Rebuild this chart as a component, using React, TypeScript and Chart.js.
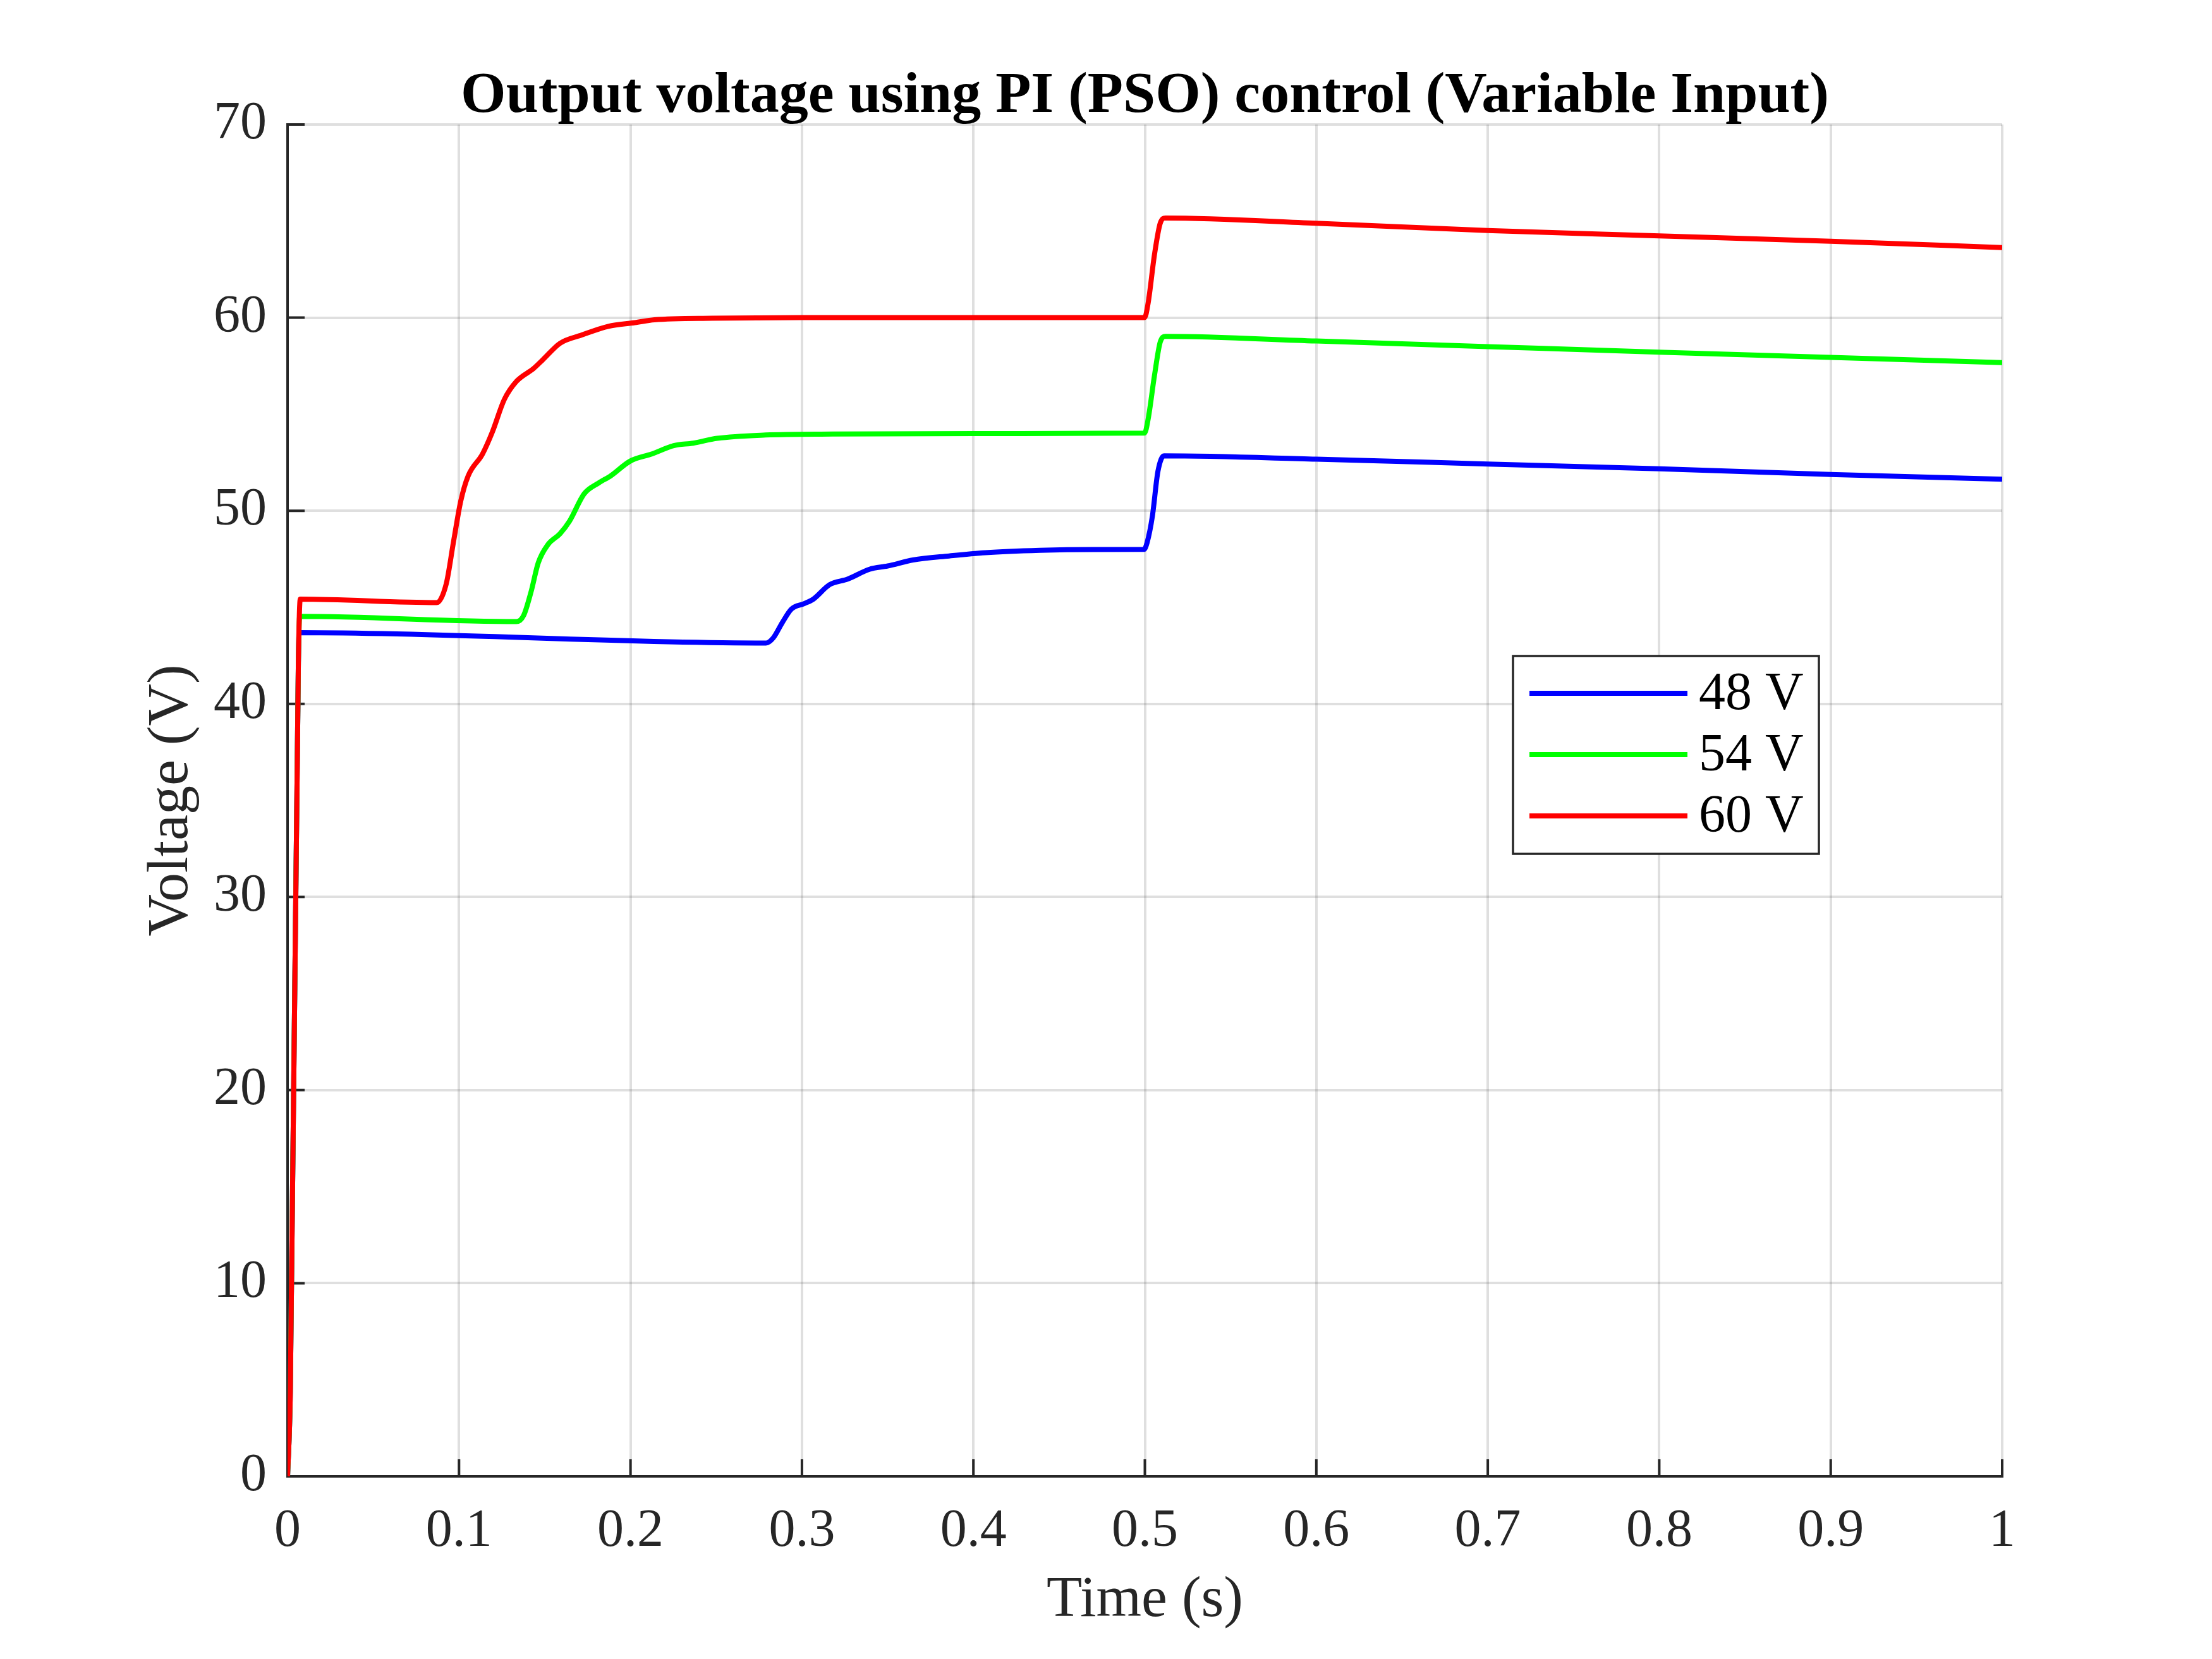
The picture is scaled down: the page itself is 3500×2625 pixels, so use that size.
import { useEffect, useRef } from "react";
import { Chart, registerables } from "chart.js";

Chart.register(...registerables);

// values (time in s, voltage in V)
const chartTitle = "Output voltage using PI (PSO) control (Variable Input)";
const seriesLabels = ["48 V", "54 V", "60 V"];
const seriesColors = ["#0000ff", "#00ff00", "#ff0000"];

const tBlue = [
  0, 0.0016, 0.0063, 0.0068, 0.279, 0.2833, 0.2886, 0.2939, 0.3013, 0.3066, 0.3161, 0.3267, 0.3394,
  0.35, 0.3648, 0.3859, 0.4071, 0.4388, 0.47, 0.4995, 0.5013, 0.5044, 0.5076, 0.5112, 0.6, 0.7, 0.8,
  0.9, 1.0,
];
const vBlue = [
  0, 4.4, 42.1, 43.69, 43.15, 43.42, 44.22, 44.91, 45.19, 45.42, 46.17, 46.46, 46.97, 47.14, 47.45,
  47.66, 47.83, 47.95, 47.99, 48.0, 48.35, 49.73, 52.03, 52.84, 52.67, 52.42, 52.17, 51.88, 51.63,
];

const tGreen = [
  0, 0.0016, 0.0063, 0.0071, 0.1335, 0.1377, 0.142, 0.1462, 0.1518, 0.1589, 0.1645, 0.173, 0.1815,
  0.1885, 0.1998, 0.2125, 0.2252, 0.2365, 0.2506, 0.2788, 0.318, 0.4, 0.4998, 0.5019, 0.5056, 0.509,
  0.512, 0.6, 0.7, 0.8, 0.9, 1.0,
];
const vGreen = [
  0, 4.4, 42.1, 44.53, 44.26, 44.58, 45.8, 47.3, 48.24, 48.81, 49.47, 50.88, 51.44, 51.81, 52.57,
  52.94, 53.37, 53.5, 53.75, 53.92, 53.97, 54.0, 54.02, 54.74, 57.0, 58.75, 59.03, 58.79, 58.5, 58.21,
  57.94, 57.67,
];

const tRed = [
  0, 0.0016, 0.0063, 0.0074, 0.087, 0.0925, 0.0968, 0.101, 0.1053, 0.1137, 0.1194, 0.1264, 0.1335,
  0.1434, 0.149, 0.1589, 0.1716, 0.1871, 0.2026, 0.2139, 0.2477, 0.3, 0.4, 0.4998, 0.5019, 0.5056,
  0.509, 0.512, 0.6, 0.7, 0.8, 0.9, 1.0,
];
const vRed = [
  0, 4.4, 42.1, 45.42, 45.24, 46.2, 48.4, 50.5, 51.8, 52.94, 54.07, 55.76, 56.7, 57.36, 57.83, 58.67,
  59.1, 59.55, 59.74, 59.89, 59.97, 60.0, 60.0, 60.0, 60.75, 63.26, 64.9, 65.16, 64.89, 64.51, 64.23,
  63.95, 63.63,
];

const seriesTimes = [tBlue, tGreen, tRed];
const seriesVolts = [vBlue, vGreen, vRed];

const FONT = '"Liberation Serif", "Times New Roman", serif';
const AXIS_COLOR = "#262626";

// MATLAB style: tick marks point into the plot
const innerTicks = {
  id: "innerTicks",
  beforeDatasetsDraw(chart: any) {
    const { ctx, chartArea, scales } = chart;
    const len = 27;
    ctx.save();
    ctx.strokeStyle = AXIS_COLOR;
    ctx.lineWidth = 4;
    ctx.beginPath();
    scales.x.ticks.forEach((t: any) => {
      const px = scales.x.getPixelForValue(t.value);
      ctx.moveTo(px, chartArea.bottom);
      ctx.lineTo(px, chartArea.bottom - len);
    });
    scales.y.ticks.forEach((t: any) => {
      const py = scales.y.getPixelForValue(t.value);
      ctx.moveTo(chartArea.left, py);
      ctx.lineTo(chartArea.left + len, py);
    });
    ctx.stroke();
    ctx.restore();
  },
};

// title centred over the axes, like MATLAB does it
const axesTitle = {
  id: "axesTitle",
  afterDraw(chart: any) {
    const { ctx, chartArea } = chart;
    ctx.save();
    ctx.font = `bold 92px ${FONT}`;
    ctx.fillStyle = "#000000";
    ctx.textAlign = "center";
    ctx.textBaseline = "alphabetic";
    ctx.fillText(chartTitle, (chartArea.left + chartArea.right) / 2, 177);
    ctx.restore();
  },
};

// boxed legend sitting inside the axes
const boxLegend = {
  id: "boxLegend",
  afterDatasetsDraw(chart: any) {
    const { ctx } = chart;
    const x0 = 2394, y0 = 1038, w = 484, h = 313;
    const rowY = [1097, 1194, 1291];
    ctx.save();
    ctx.fillStyle = "#ffffff";
    ctx.fillRect(x0, y0, w, h);
    ctx.strokeStyle = AXIS_COLOR;
    ctx.lineWidth = 3.5;
    ctx.strokeRect(x0, y0, w, h);
    ctx.font = `84px ${FONT}`;
    ctx.textBaseline = "middle";
    ctx.textAlign = "left";
    chart.data.datasets.forEach((ds: any, i: number) => {
      ctx.strokeStyle = ds.borderColor;
      ctx.lineWidth = 8;
      ctx.beginPath();
      ctx.moveTo(2420, rowY[i]);
      ctx.lineTo(2670, rowY[i]);
      ctx.stroke();
      ctx.fillStyle = "#000000";
      ctx.fillText(ds.label, 2688, rowY[i] + 3);
    });
    ctx.restore();
  },
};

export default function App() {
  const canvasRef = useRef<HTMLCanvasElement | null>(null);

  useEffect(() => {
    document.body.style.margin = "0";
    if (!canvasRef.current) return;

    const datasets = seriesLabels.map((label, i) => ({
      label,
      data: seriesTimes[i].map((t, j) => ({ x: t, y: seriesVolts[i][j] })),
      borderColor: seriesColors[i],
      backgroundColor: seriesColors[i],
      borderWidth: 8,
      pointRadius: 0,
      cubicInterpolationMode: "monotone" as const,
      fill: false,
      // later series are plotted on top, as in the original figure
      order: seriesLabels.length - i,
    }));

    const chart = new Chart(canvasRef.current, {
      type: "line",
      data: { datasets },
      plugins: [innerTicks, boxLegend, axesTitle],
      options: {
        responsive: false,
        animation: false,
        devicePixelRatio: 1,
        layout: { padding: { left: 0, right: 332, top: 197, bottom: 0 } },
        plugins: {
          legend: { display: false },
          tooltip: { enabled: false },
          title: { display: false },
        },
        scales: {
          x: {
            type: "linear",
            min: 0,
            max: 1,
            afterFit: (scale: any) => {
              scale.height = 2625 - 2336;
            },
            ticks: {
              stepSize: 0.1,
              padding: 38,
              color: AXIS_COLOR,
              font: { family: FONT, size: 84 },
              callback: (v: any) => String(Number(Number(v).toFixed(1))),
              maxRotation: 0,
            },
            grid: { color: "rgba(38,38,38,0.15)", lineWidth: 4, drawTicks: false },
            border: { color: AXIS_COLOR, width: 4 },
            title: {
              display: true,
              text: "Time (s)",
              color: AXIS_COLOR,
              font: { family: FONT, size: 92, lineHeight: 1 },
              padding: { top: 0, bottom: 46 },
            },
          },
          y: {
            type: "linear",
            min: 0,
            max: 70,
            afterFit: (scale: any) => {
              scale.width = 455;
            },
            ticks: {
              stepSize: 10,
              padding: 33,
              color: AXIS_COLOR,
              font: { family: FONT, size: 84 },
            },
            grid: { color: "rgba(38,38,38,0.15)", lineWidth: 4, drawTicks: false },
            border: { color: AXIS_COLOR, width: 4 },
            title: {
              display: true,
              text: "Voltage (V)",
              color: AXIS_COLOR,
              font: { family: FONT, size: 92, lineHeight: 1 },
              padding: { top: 226, bottom: 0 },
            },
          },
        },
      },
    });

    return () => chart.destroy();
  }, []);

  return (
    <div style={{ width: 3500, height: 2625, background: "#ffffff" }}>
      <canvas ref={canvasRef} width={3500} height={2625} style={{ width: 3500, height: 2625, display: "block" }} />
    </div>
  );
}
